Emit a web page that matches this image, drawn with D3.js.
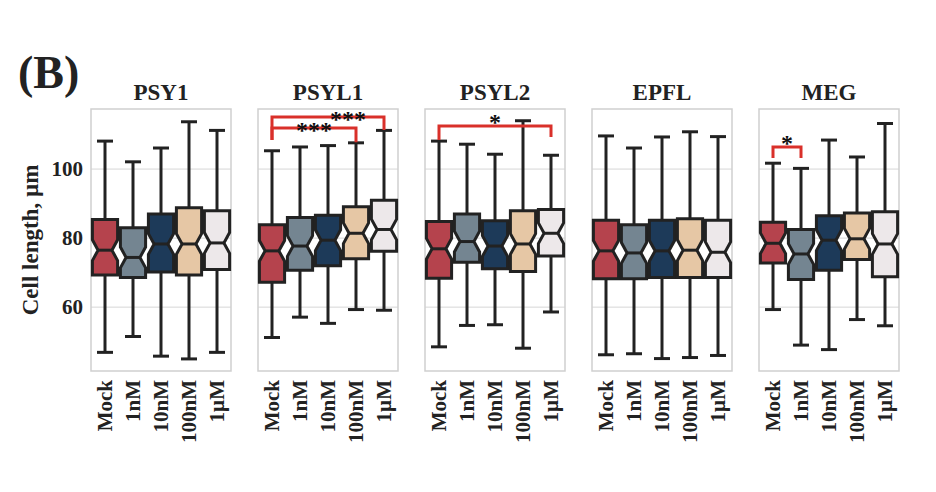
<!DOCTYPE html>
<html><head><meta charset="utf-8"><script src="https://cdn.jsdelivr.net/npm/d3@7"></script>
<style>body{margin:0;background:#fff}text{font-family:"Liberation Serif","DejaVu Serif",serif;font-weight:bold;fill:#222}</style></head>
<body><svg id="c" width="936" height="492"></svg>
<script>
const panels = ["PSY1","PSYL1","PSYL2","EPFL","MEG"];
const categories = ["Mock","1nM","10nM","100nM","1µM"];
const colors = ["#b5434d","#748591","#1d3a59","#e6c7a5","#ede8ea"];
const yTicks = [60,80,100];
// per panel: [whiskerLow, q1, median, q3, whiskerHigh] per category
const stats = [
 [[46.9,69.3,76.5,85.4,108.1],[51.5,68.6,74.4,83.0,102.1],[45.8,70.2,78.3,87.0,106.1],[45.0,69.3,78.3,88.8,113.7],[46.9,70.9,78.6,87.9,111.2]],
 [[51.2,67.2,76.3,83.9,105.3],[57.1,70.7,77.7,86.0,106.4],[55.3,72.0,79.4,86.6,106.8],[59.3,74.0,81.4,89.1,107.6],[59.1,76.2,82.5,91.0,111.2]],
 [[48.5,68.4,76.9,84.8,108.1],[54.7,73.0,79.0,87.0,107.2],[54.9,71.1,77.7,85.0,104.3],[48.1,70.3,78.3,87.9,114.0],[58.6,74.8,81.4,88.3,104.0]],
 [[46.2,68.2,76.3,85.2,109.6],[46.5,68.2,75.7,83.9,106.1],[45.1,68.6,76.3,85.2,109.3],[45.4,68.6,76.5,85.6,110.8],[46.0,68.6,75.9,85.2,109.4]],
 [[59.3,72.8,78.5,84.6,101.7],[49.0,68.0,75.4,82.5,100.2],[47.7,70.7,79.4,86.5,108.4],[56.4,73.8,79.8,87.3,103.5],[54.6,68.8,78.3,87.6,113.2]]
];
// significance brackets: panel, from cat, to cat, bar y, left leg y, right leg y, label
const brackets = [
 [1,0,4,115.1,108.4,111.3,"***"],
 [1,0,3,111.9,108.4,107.8,"***"],
 [2,0,4,112.5,108.4,109.3,"*"],
 [4,0,1,106.4,103.2,103.2,"*"]
];
const svg = d3.select("#c");
const panelX = [91,258,425,592,759], pw=140, pTop=109, pBottom=371;
const y = d3.scaleLinear().domain([41.5,117.4]).range([pBottom,pTop]);
const x = d3.scaleBand().domain(categories).range([0,pw]).paddingInner(0.1).paddingOuter(0.05);
svg.append("text").attr("x",18).attr("y",88).attr("font-size",46).text("(B)");
svg.append("text").attr("transform","translate(38,240) rotate(-90)").attr("text-anchor","middle").attr("font-size",23).text("Cell length, µm");
panels.forEach((p,pi)=>{
  const g = svg.append("g").attr("transform",`translate(${panelX[pi]},0)`);
  g.selectAll("line.grid").data(yTicks).join("line").attr("x1",0).attr("x2",pw).attr("y1",d=>y(d)).attr("y2",d=>y(d)).attr("stroke","#d6d6d6").attr("stroke-width",1);
  g.append("rect").attr("x",0).attr("y",pTop).attr("width",pw).attr("height",pBottom-pTop).attr("fill","none").attr("stroke","#cfcfcf").attr("stroke-width",1.5);
  g.append("text").attr("x",pw/2).attr("y",100).attr("text-anchor","middle").attr("font-size",23).text(p);
  if(pi===0){
    g.selectAll("text.yt").data(yTicks).join("text").attr("x",-8).attr("y",d=>y(d)+7).attr("text-anchor","end").attr("font-size",21).text(d=>d);
  }
  categories.forEach((c,ci)=>{
    const [lo,q1,med,q3,hi]=stats[pi][ci];
    const cx = x(c)+x.bandwidth()/2, hw=x.bandwidth()/2, nw=hw*0.55, cap=8, nd=3;
    g.append("line").attr("x1",cx).attr("x2",cx).attr("y1",y(hi)).attr("y2",y(lo)).attr("stroke","#222").attr("stroke-width",3);
    [hi,lo].forEach(v=>g.append("line").attr("x1",cx-cap).attr("x2",cx+cap).attr("y1",y(v)).attr("y2",y(v)).attr("stroke","#222").attr("stroke-width",3));
    const pts=[[cx-hw,y(q3)],[cx+hw,y(q3)],[cx+hw,y(med+nd)],[cx+nw,y(med)],[cx+hw,y(med-nd)],[cx+hw,y(q1)],[cx-hw,y(q1)],[cx-hw,y(med-nd)],[cx-nw,y(med)],[cx-hw,y(med+nd)]];
    g.append("path").attr("d",d3.line()(pts)+"Z").attr("fill",colors[ci]).attr("stroke","#222").attr("stroke-width",3).attr("stroke-linejoin","miter");
    g.append("line").attr("x1",cx-nw).attr("x2",cx+nw).attr("y1",y(med)).attr("y2",y(med)).attr("stroke","#222").attr("stroke-width",3);
    g.append("text").attr("transform",`translate(${cx+7},${380}) rotate(-90)`).attr("text-anchor","end").attr("font-size",21).text(c);
  });
});
brackets.forEach(([pi,a,b,yb,yl,yr,lab])=>{
  const g = svg.append("g").attr("transform",`translate(${panelX[pi]},0)`);
  const xa=x(categories[a])+x.bandwidth()/2, xb=x(categories[b])+x.bandwidth()/2;
  g.append("path").attr("d",d3.line()([[xa,y(yl)],[xa,y(yb)],[xb,y(yb)],[xb,y(yr)]])).attr("fill","none").attr("stroke","#d9302a").attr("stroke-width",3);
  g.append("text").attr("x",(xa+xb)/2+(lab==="***"&&b===4?20:0)).attr("y",y(yb)+(lab==="***"?10:4)).attr("text-anchor","middle").attr("font-family","DejaVu Sans").attr("font-size",24).attr("font-weight","normal").text(lab).style("fill","#111");
});
</script></body></html>
